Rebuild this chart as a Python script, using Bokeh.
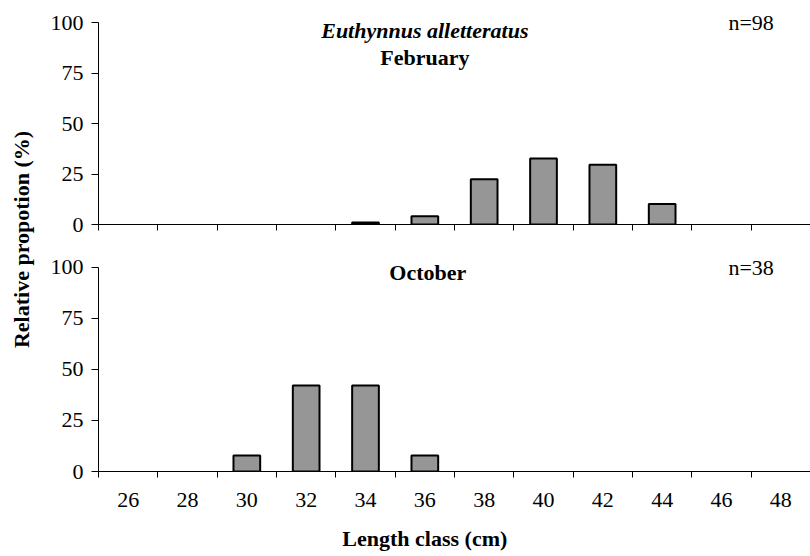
import math
from bokeh.plotting import figure
from bokeh.models import Range1d, FixedTicker, Label, ColumnDataSource
from bokeh.layouts import row, column
from bokeh.embed import file_html
from bokeh.resources import INLINE

# ---- data ----
length_classes = [26, 28, 30, 32, 34, 36, 38, 40, 42, 44, 46, 48]
feb_values = [0, 0, 0, 0, 1.0, 4.1, 22.4, 32.7, 29.6, 10.2, 0, 0]
oct_values = [0, 0, 7.9, 42.1, 42.1, 7.9, 0, 0, 0, 0, 0, 0]
y_ticks = [0, 25, 50, 75, 100]
species = "Euthynnus alletteratus"
feb_label, feb_n = "February", "n=98"
oct_label, oct_n = "October", "n=38"
x_title = "Length class (cm)"
y_title = "Relative propotion (%)"

FONT = "Liberation Serif"
FS = "22px"
BAR_FILL = "#969696"

bounds = [c - 1 for c in length_classes] + [length_classes[-1] + 1]
x_lo, x_hi = bounds[0], bounds[-1]


def base_fig(height, y_end, top_border, bottom_border):
    p = figure(width=770, height=height, output_backend="svg", toolbar_location=None,
               x_range=Range1d(x_lo, x_hi), y_range=Range1d(0, y_end),
               min_border_left=58, min_border_right=0,
               min_border_top=top_border, min_border_bottom=bottom_border)
    p.outline_line_color = None
    p.grid.visible = False
    p.background_fill_color = "white"
    p.border_fill_color = "white"
    return p


def panel(values, height, y_end, bottom_border, show_labels):
    p = base_fig(height, y_end, 0, bottom_border)

    xs = [c for c, v in zip(length_classes, values) if v > 0]
    ys = [v for v in values if v > 0]
    src = ColumnDataSource(dict(x=xs, top=ys))
    p.vbar(x="x", top="top", bottom=0, width=0.9, source=src,
           fill_color=BAR_FILL, line_color="black", line_width=2)

    xa = p.xaxis[0]
    if show_labels:
        xa.ticker = FixedTicker(ticks=length_classes, minor_ticks=bounds)
        xa.major_label_text_font_size = FS
        xa.major_label_standoff = 15
    else:
        xa.ticker = FixedTicker(ticks=[], minor_ticks=bounds)
        xa.major_label_standoff = 0
    xa.major_tick_in = 0
    xa.major_tick_out = 0
    xa.minor_tick_in = 0
    xa.minor_tick_out = 6
    xa.axis_line_color = "black"
    xa.minor_tick_line_color = "black"
    xa.major_label_text_font = FONT
    xa.major_label_text_color = "black"

    ya = p.yaxis[0]
    ya.ticker = FixedTicker(ticks=y_ticks, minor_ticks=[])
    ya.bounds = (0, 100)
    ya.major_tick_in = 0
    ya.major_tick_out = 7
    ya.minor_tick_out = 0
    ya.axis_line_color = "black"
    ya.major_tick_line_color = "black"
    ya.major_label_text_font = FONT
    ya.major_label_text_font_size = FS
    ya.major_label_text_color = "black"
    ya.major_label_standoff = 8
    return p


# top panel: frame 0..224 px, 100% at 22 px
top = panel(feb_values, 240, 110.9, 16, False)
# bottom panel: frame 240..471 px, 100% at 267 px
bot = panel(oct_values, 281, 113.2, 50, True)


def lab(p, x, y, text, style="normal", align="center"):
    p.add_layout(Label(x=x, y=y, text=text, text_font=FONT, text_font_size=FS,
                       text_font_style=style, text_align=align, text_baseline="middle",
                       text_color="black"))


lab(top, 36.0, 96.0, species, "bold italic")
lab(top, 36.0, 82.5, feb_label, "bold")
lab(top, 47.0, 100.0, feb_n)
lab(bot, 36.1, 97.4, oct_label, "bold")
lab(bot, 47.0, 99.8, oct_n)

# x-axis title strip
xt = base_fig(35, 35, 0, 0)
xt.axis.visible = False
lab(xt, 36.0, 18, x_title, "bold")

# y-axis title strip
yl = figure(width=40, height=556, output_backend="svg", toolbar_location=None,
            x_range=Range1d(0, 40), y_range=Range1d(0, 556),
            min_border=0, min_border_left=0, min_border_right=0,
            min_border_top=0, min_border_bottom=0)
yl.axis.visible = False
yl.grid.visible = False
yl.outline_line_color = None
yl.add_layout(Label(x=21, y=556 - 239, text=y_title, angle=math.pi / 2,
                    text_font=FONT, text_font_size=FS, text_font_style="bold",
                    text_align="center", text_baseline="middle", text_color="black"))

layout = row(yl, column(top, bot, xt))
open("out.html", "w").write(file_html(layout, INLINE))
